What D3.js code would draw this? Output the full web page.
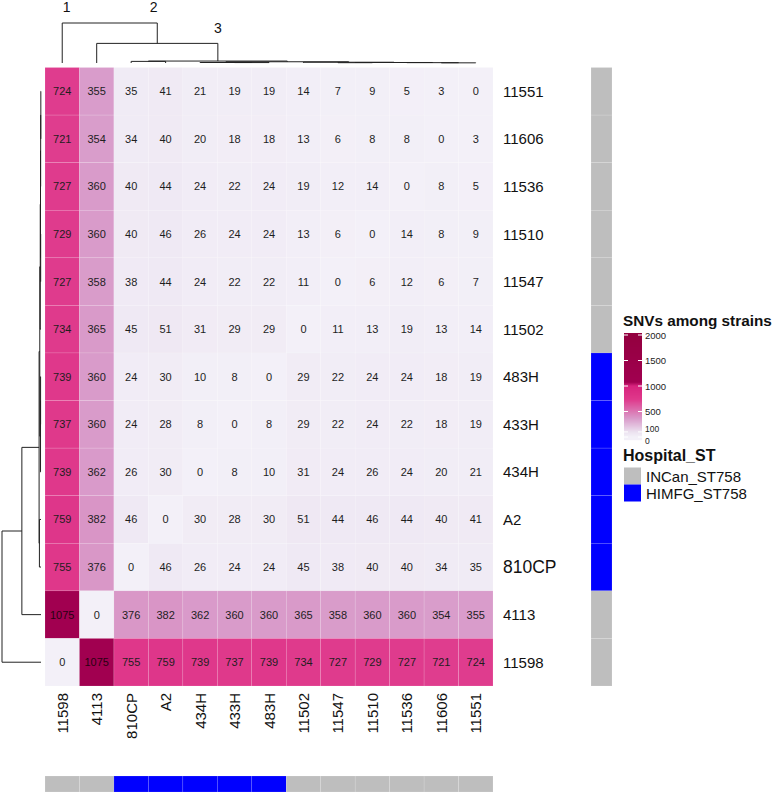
<!DOCTYPE html>
<html>
<head>
<meta charset="utf-8">
<script src="https://cdn.jsdelivr.net/npm/d3@7"></script>
<style>
  html, body { margin: 0; padding: 0; background: #ffffff; }
  svg { display: block; font-family: "Liberation Sans", Arial, Helvetica, sans-serif; }
</style>
</head>
<body>
<svg id="chart" width="777" height="799"></svg>
<script>
// ---------------- DATA ----------------
const rowLabels = ["11551","11606","11536","11510","11547","11502","483H","433H","434H","A2","810CP","4113","11598"];
const colLabels = ["11598","4113","810CP","A2","434H","433H","483H","11502","11547","11510","11536","11606","11551"];

const snvMatrix = [
  [724, 355, 35, 41, 21, 19, 19, 14, 7, 9, 5, 3, 0],
  [721, 354, 34, 40, 20, 18, 18, 13, 6, 8, 8, 0, 3],
  [727, 360, 40, 44, 24, 22, 24, 19, 12, 14, 0, 8, 5],
  [729, 360, 40, 46, 26, 24, 24, 13, 6, 0, 14, 8, 9],
  [727, 358, 38, 44, 24, 22, 22, 11, 0, 6, 12, 6, 7],
  [734, 365, 45, 51, 31, 29, 29, 0, 11, 13, 19, 13, 14],
  [739, 360, 24, 30, 10, 8, 0, 29, 22, 24, 24, 18, 19],
  [737, 360, 24, 28, 8, 0, 8, 29, 22, 24, 22, 18, 19],
  [739, 362, 26, 30, 0, 8, 10, 31, 24, 26, 24, 20, 21],
  [759, 382, 46, 0, 30, 28, 30, 51, 44, 46, 44, 40, 41],
  [755, 376, 0, 46, 26, 24, 24, 45, 38, 40, 40, 34, 35],
  [1075, 0, 376, 382, 362, 360, 360, 365, 358, 360, 360, 354, 355],
  [0, 1075, 755, 759, 739, 737, 739, 734, 727, 729, 727, 721, 724]
];

const hospitalST = {
  "11551": "INCan_ST758", "11606": "INCan_ST758", "11536": "INCan_ST758",
  "11510": "INCan_ST758", "11547": "INCan_ST758", "11502": "INCan_ST758",
  "483H": "HIMFG_ST758", "433H": "HIMFG_ST758", "434H": "HIMFG_ST758",
  "A2": "HIMFG_ST758", "810CP": "HIMFG_ST758",
  "4113": "INCan_ST758", "11598": "INCan_ST758"
};
const hospitalGroups = ["INCan_ST758", "HIMFG_ST758"];

// hierarchical clustering merges: [left, right, height]; numbers refer to earlier merges
const dendroMerges = [
  ["433H", "483H", 8],
  ["434H", 0, 9],
  ["11606", "11551", 3],
  ["11536", 2, 6.5],
  ["11547", "11510", 6],
  [4, 3, 9.3],
  ["11502", 5, 14],
  [1, 6, 23],
  ["810CP", "A2", 30],
  [8, 7, 36],
  ["4113", 9, 363],
  ["11598", 10, 740]
];
const clusterMarks = [
  {label: "1", merge: 11, side: "left"},
  {label: "2", merge: 11, side: "right"},
  {label: "3", merge: 9, side: "mid"}
];

const legendTicks = [0, 100, 500, 1000, 1500, 2000];

// ---------------- DRAW ----------------
const svg = d3.select("#chart");
const hmLeft = 45, hmRight = 493, hmTop = 67.5, hmBottom = 686;

const x = d3.scaleBand().domain(colLabels).range([hmLeft, hmRight]);
const y = d3.scaleBand().domain(rowLabels).range([hmTop, hmBottom]);

const color = d3.scaleLinear()
  .domain([0, 100, 360, 740, 1000, 1075, 2000])
  .range(["#f3f0f8", "#ebe1ef", "#d99bca", "#df388b", "#d8237e", "#a10050", "#93003f"])
  .interpolate(d3.interpolateRgb)
  .clamp(true);

const annoColor = d3.scaleOrdinal().domain(hospitalGroups).range(["#bebebe", "#0000ff"]);

// heatmap cells
const cells = [];
rowLabels.forEach((r, i) => colLabels.forEach((c, j) => cells.push({r, c, v: snvMatrix[i][j]})));

const gCells = svg.append("g");
gCells.selectAll("rect").data(cells).join("rect")
  .attr("x", d => x(d.c)).attr("y", d => y(d.r))
  .attr("width", x.bandwidth()).attr("height", y.bandwidth())
  .attr("fill", d => color(d.v))
  .attr("stroke", "rgba(255,255,255,0.25)").attr("stroke-width", 0.5);

gCells.selectAll("text").data(cells).join("text")
  .attr("x", d => x(d.c) + x.bandwidth() / 2)
  .attr("y", d => y(d.r) + y.bandwidth() / 2)
  .attr("text-anchor", "middle").attr("dominant-baseline", "central")
  .attr("font-size", 11).attr("fill", d => d.v > 1000 ? "#2a0012" : "#1e1e1e")
  .text(d => d.v);

// row labels
svg.append("g").selectAll("text").data(rowLabels).join("text")
  .attr("x", 503).attr("y", d => y(d) + y.bandwidth() / 2)
  .attr("dominant-baseline", "central")
  .attr("font-size", d => d === "810CP" ? 17.5 : 15).attr("fill", "#111")
  .text(d => d);

// column labels
svg.append("g").selectAll("text").data(colLabels).join("text")
  .attr("transform", d => `translate(${x(d) + x.bandwidth() / 2},693) rotate(-90)`)
  .attr("text-anchor", "end").attr("dominant-baseline", "central")
  .attr("font-size", 15).attr("fill", "#111")
  .text(d => d);

// right annotation
svg.append("g").selectAll("rect").data(rowLabels).join("rect")
  .attr("x", 591).attr("y", d => y(d)).attr("width", 21).attr("height", y.bandwidth())
  .attr("fill", d => annoColor(hospitalST[d]))
  .attr("stroke", "rgba(255,255,255,0.25)").attr("stroke-width", 0.5);

// bottom annotation
svg.append("g").selectAll("rect").data(colLabels).join("rect")
  .attr("x", d => x(d)).attr("y", 776).attr("width", x.bandwidth()).attr("height", 16)
  .attr("fill", d => annoColor(hospitalST[d]))
  .attr("stroke", "rgba(255,255,255,0.25)").attr("stroke-width", 0.5);

// dendrograms
function buildNodes(posOf) {
  const nodes = [];
  const get = k => typeof k === "number" ? nodes[k] : {pos: posOf(k), h: 0};
  dendroMerges.forEach(([a, b, h]) => {
    const A = get(a), B = get(b);
    nodes.push({pos: (A.pos + B.pos) / 2, h, A, B});
  });
  return nodes;
}
const maxH = d3.max(dendroMerges, d => d[2]);
const colH = d3.scaleLinear().domain([0, maxH]).range([63, 23]);
const rowH = d3.scaleLinear().domain([0, maxH]).range([41, 2]);

const colNodes = buildNodes(k => x(k) + x.bandwidth() / 2);
const rowNodes = buildNodes(k => y(k) + y.bandwidth() / 2);

const colPath = d3.path();
colNodes.forEach(n => {
  colPath.moveTo(n.A.pos, colH(n.A.h));
  colPath.lineTo(n.A.pos, colH(n.h));
  colPath.lineTo(n.B.pos, colH(n.h));
  colPath.lineTo(n.B.pos, colH(n.B.h));
});
svg.append("path").attr("d", colPath.toString())
  .attr("fill", "none").attr("stroke", "#222").attr("stroke-width", 1);

const rowPath = d3.path();
rowNodes.forEach(n => {
  rowPath.moveTo(rowH(n.A.h), n.A.pos);
  rowPath.lineTo(rowH(n.h), n.A.pos);
  rowPath.lineTo(rowH(n.h), n.B.pos);
  rowPath.lineTo(rowH(n.B.h), n.B.pos);
});
svg.append("path").attr("d", rowPath.toString())
  .attr("fill", "none").attr("stroke", "#222").attr("stroke-width", 1);

// cluster numbers
svg.append("g").selectAll("text").data(clusterMarks).join("text")
  .attr("x", d => {
    const n = colNodes[d.merge];
    const lo = Math.min(n.A.pos, n.B.pos), hi = Math.max(n.A.pos, n.B.pos);
    return d.side === "left" ? lo + 4.5 : d.side === "right" ? hi - 3.5 : n.pos;
  })
  .attr("y", d => d.side === "mid" ? 33 : 12)
  .attr("text-anchor", "middle").attr("font-size", 14).attr("fill", "#111")
  .text(d => d.label);

// colour legend
const leg = svg.append("g");
leg.append("text").attr("x", 623).attr("y", 326)
  .attr("font-size", 15.3).attr("font-weight", "bold").attr("fill", "#111")
  .text("SNVs among strains");
const ly = d3.scaleLinear().domain([0, 2000]).range([437, 335]);
const barTop = 333, barBottom = 440;
const barVals = d3.range(barTop, barBottom, 1);
leg.selectAll("rect.g").data(barVals).join("rect").attr("class", "g")
  .attr("x", 624).attr("y", d => d).attr("width", 18).attr("height", 1.2)
  .attr("fill", d => color(ly.invert(d + 0.5)));
leg.selectAll("line.tl").data(legendTicks).join("line").attr("class", "tl")
  .attr("x1", 624).attr("x2", 628).attr("y1", d => ly(d)).attr("y2", d => ly(d))
  .attr("stroke", "#fff").attr("stroke-width", 1);
leg.selectAll("line.tr").data(legendTicks).join("line").attr("class", "tr")
  .attr("x1", 638).attr("x2", 642).attr("y1", d => ly(d)).attr("y2", d => ly(d))
  .attr("stroke", "#fff").attr("stroke-width", 1);
leg.selectAll("text.tk").data(legendTicks).join("text").attr("class", "tk")
  .attr("x", 645)
  .attr("y", d => ly(d) + (d === 0 ? 3.5 : d === 100 ? -2.5 : 0))
  .attr("dominant-baseline", "central")
  .attr("font-size", d => d < 500 ? 8.5 : 9.5).attr("fill", "#222")
  .text(d => d);

// hospital legend
leg.append("text").attr("x", 623).attr("y", 461)
  .attr("font-size", 16).attr("font-weight", "bold").attr("fill", "#111")
  .text("Hospital_ST");
const items = leg.selectAll("g.item").data(hospitalGroups).join("g").attr("class", "item")
  .attr("transform", (d, i) => `translate(624,${467.5 + i * 17})`);
items.append("rect").attr("width", 17).attr("height", 17).attr("fill", d => annoColor(d));
items.append("text").attr("x", 22).attr("y", 9).attr("dominant-baseline", "central")
  .attr("font-size", 15).attr("fill", "#111").text(d => d);
</script>
</body>
</html>
